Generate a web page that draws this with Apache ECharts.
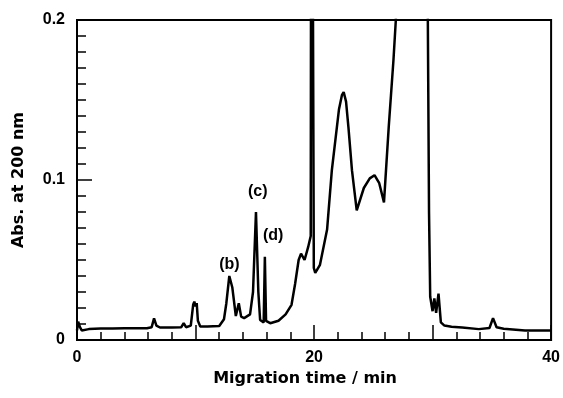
<!DOCTYPE html>
<html>
<head>
<meta charset="utf-8">
<script src="https://cdn.jsdelivr.net/npm/echarts@6/dist/echarts.min.js"></script>
<style>html,body{margin:0;padding:0;background:#fff}#c{width:563px;height:398px}</style>
</head>
<body>
<div id="c"></div>
<script>
// Migration time (min)
var times = [0.0,0.1,0.25,0.4,1.0,2.0,3.0,4.0,5.0,5.9,6.3,6.5,6.7,7.0,8.0,8.8,9.0,9.2,9.6,9.8,9.9,10.0,10.1,10.2,10.4,11.0,12.0,12.4,12.6,12.85,13.1,13.4,13.65,13.85,14.1,14.6,14.85,15.1,15.3,15.45,15.75,15.85,15.95,16.3,17.0,17.6,18.1,18.4,18.7,18.9,19.2,19.5,19.72,19.78,19.92,19.98,20.1,20.5,21.1,21.5,22.1,22.35,22.5,22.7,22.9,23.2,23.6,24.2,24.7,25.1,25.5,25.9,26.3,26.7,26.9,27.2,29.5,29.6,29.7,29.8,30.0,30.15,30.3,30.5,30.7,31.0,31.6,32.5,33.9,34.8,35.1,35.4,36.0,37.8,40.0];
// Absorbance at 200 nm
var absorbance = [0.006,0.0115,0.008,0.006,0.0068,0.0072,0.0072,0.0073,0.0073,0.0074,0.008,0.0135,0.009,0.0078,0.0078,0.008,0.0105,0.008,0.009,0.022,0.024,0.021,0.023,0.012,0.0085,0.0085,0.0087,0.013,0.023,0.040,0.033,0.015,0.023,0.0146,0.0137,0.016,0.03,0.080,0.03,0.0125,0.011,0.052,0.012,0.0105,0.012,0.016,0.022,0.035,0.050,0.054,0.050,0.058,0.065,0.5,0.5,0.045,0.042,0.047,0.069,0.106,0.144,0.153,0.155,0.149,0.133,0.106,0.081,0.095,0.101,0.103,0.098,0.086,0.133,0.175,0.2,0.3,0.3,0.2,0.08,0.027,0.018,0.026,0.017,0.029,0.011,0.009,0.0083,0.0078,0.0068,0.0075,0.0137,0.008,0.007,0.006,0.006];
// Peak annotations
var peakNames = ['(b)','(c)','(d)'];
var peakLabelX = [12.86,15.25,16.55];
var peakLabelY = [0.047,0.093,0.065];
// Tick labels
var xTickLabels = {0:'0',20:'20',40:'40'};
var yTickLabels = {0:'0',0.1:'0.1',0.2:'0.2'};

var lineData = times.map(function(t,i){return [t,absorbance[i]];});
var annData = peakNames.map(function(n,i){return {value:[peakLabelX[i],peakLabelY[i]],name:n};});
var FONT = 'Liberation Sans';
var TFONT = 'DejaVu Sans';
var chart = echarts.init(document.getElementById('c'));
chart.setOption({
  animation:false,
  backgroundColor:'#fff',
  grid:{left:77,right:10,top:20,bottom:58,show:true,borderColor:'#000',borderWidth:2,backgroundColor:'transparent'},
  xAxis:{
    type:'value',min:0,max:40,interval:10,
    name:'Migration time / min',nameLocation:'middle',nameGap:31,
    nameTextStyle:{fontFamily:TFONT,fontWeight:'bold',fontSize:16,color:'#000',padding:[0,18,0,0]},
    axisLine:{show:true,lineStyle:{color:'#000',width:2}},
    axisTick:{show:true,inside:true,length:15,lineStyle:{color:'#000',width:1.5}},
    minorTick:{show:true,splitNumber:5,length:8,lineStyle:{color:'#000',width:1.5}},
    splitLine:{show:false},
    axisLabel:{margin:10,fontFamily:FONT,fontWeight:'bold',fontSize:16,color:'#000',
      formatter:function(v){return xTickLabels[v]!==undefined?xTickLabels[v]:'';}}
  },
  yAxis:{
    type:'value',min:0,max:0.2,interval:0.1,
    name:'Abs. at 200 nm',nameLocation:'middle',nameGap:50,nameRotate:90,
    nameTextStyle:{fontFamily:TFONT,fontWeight:'bold',fontSize:16,color:'#000'},
    axisLine:{show:true,lineStyle:{color:'#000',width:2}},
    axisTick:{show:true,inside:true,length:15,lineStyle:{color:'#000',width:1.5}},
    minorTick:{show:true,splitNumber:10,length:9,lineStyle:{color:'#000',width:1.5}},
    splitLine:{show:false},
    axisLabel:{margin:12,fontFamily:FONT,fontWeight:'bold',fontSize:16,color:'#000',
      formatter:function(v){var k=Math.round(v*10)/10;return yTickLabels[k]!==undefined?yTickLabels[k]:'';}}
  },
  series:[
    {type:'line',data:lineData,showSymbol:false,symbol:'none',clip:true,
     lineStyle:{color:'#000',width:2.5},z:3},
    {type:'scatter',data:annData,symbolSize:1,itemStyle:{opacity:0},
     emphasis:{disabled:true},
     label:{show:true,position:'inside',opacity:1,formatter:function(p){return p.name;},
       fontFamily:FONT,fontWeight:'bold',fontSize:16,color:'#000'},z:4}
  ]
});
</script>
</body>
</html>
